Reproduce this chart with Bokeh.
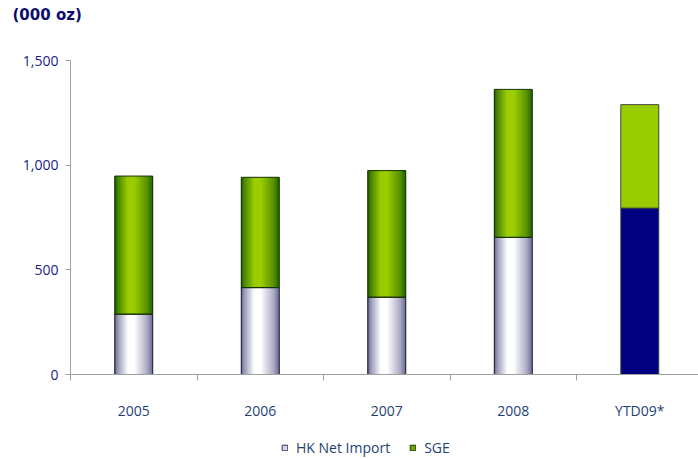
import numpy as np
from bokeh.plotting import figure
from bokeh.layouts import column
from bokeh.models import (Range1d, FixedTicker, NumeralTickFormatter, Legend,
                          LegendItem, ColumnDataSource)
from bokeh.embed import file_html
from bokeh.resources import INLINE

# ---- data ----
categories = ["2005", "2006", "2007", "2008", "YTD09*"]
hk_net_import = [288, 415, 369, 655, 795]
sge = [660, 527, 605, 707, 494]
gradient_style = [True, True, True, True, False]
y_ticks = [0, 500, 1000, 1500]
series_labels = ["HK Net Import", "SGE"]
unit_title = "(000 oz)"

BW = 0.3          # bar width in category units
N_STRIPS = 38
W = 698

# ---- title strip ----
p0 = figure(width=W, height=30, output_backend="svg", toolbar_location=None,
            x_axis_location=None, y_axis_location=None, min_border=0,
            x_range=Range1d(0, 1), y_range=Range1d(0, 1))
p0.outline_line_color = None
p0.grid.visible = False
p0.title.text = unit_title
p0.title.align = "left"
p0.title.vertical_align = "top"
p0.title.offset = -58
p0.title.standoff = 10
p0.title.text_font = "DejaVu Sans"
p0.title.text_font_size = "15px"
p0.title.text_font_style = "bold"
p0.title.text_color = "#0c0c6e"

# ---- main chart ----
p = figure(width=W, height=400, output_backend="svg", toolbar_location=None,
           x_range=Range1d(0.5, 5.464), y_range=Range1d(0, 1500),
           min_border_left=70, min_border_right=0, min_border_top=30,
           min_border_bottom=56, background_fill_color="white",
           border_fill_color="white")
p.outline_line_color = None
p.xgrid.visible = False
p.ygrid.visible = False

# cylinder-like shading profile (style only)
prof_t = [0.0, 0.08, 0.35, 0.52, 0.85, 1.0]
prof_v = [0.0, 0.35, 1.0, 1.0, 0.5, 0.1]


def mix(dark, light, f):
    r = [int(round(d + (l - d) * f)) for d, l in zip(dark, light)]
    return "#%02x%02x%02x" % tuple(r)


HK_DARK, HK_LIGHT = (92, 92, 140), (255, 255, 255)
GR_DARK, GR_LIGHT = (22, 88, 0), (155, 205, 0)

strips = dict(x=[], bottom=[], top=[], color=[])
outline_hk = dict(x=[], bottom=[], top=[])
outline_sg = dict(x=[], bottom=[], top=[])
solid = dict(x=[], hk=[], tot=[])

for i, (hk, sg, g) in enumerate(zip(hk_net_import, sge, gradient_style)):
    xc = i + 1
    tot = hk + sg
    if g:
        for k in range(N_STRIPS):
            t = (k + 0.5) / N_STRIPS
            f = float(np.interp(t, prof_t, prof_v))
            xs = xc - BW / 2 + t * BW
            strips["x"] += [xs, xs]
            strips["bottom"] += [0, hk]
            strips["top"] += [hk, tot]
            strips["color"] += [mix(HK_DARK, HK_LIGHT, f), mix(GR_DARK, GR_LIGHT, f)]
        outline_hk["x"].append(xc); outline_hk["bottom"].append(0); outline_hk["top"].append(hk)
        outline_sg["x"].append(xc); outline_sg["bottom"].append(hk); outline_sg["top"].append(tot)
    else:
        solid["x"].append(xc); solid["hk"].append(hk); solid["tot"].append(tot)

p.vbar(x="x", bottom="bottom", top="top", width=BW / N_STRIPS * 1.5,
       fill_color="color", line_color=None, source=ColumnDataSource(strips))
p.vbar(x="x", bottom="bottom", top="top", width=BW, fill_color=None,
       line_color="#1c1c30", line_width=1, source=ColumnDataSource(outline_hk))
p.vbar(x="x", bottom="bottom", top="top", width=BW, fill_color=None,
       line_color="#143300", line_width=1, source=ColumnDataSource(outline_sg))

ss = ColumnDataSource(solid)
p.vbar(x="x", bottom=0, top="hk", width=BW, fill_color="#000080",
       line_color="#404040", line_width=1, source=ss)
p.vbar(x="x", bottom="hk", top="tot", width=BW, fill_color="#99cc00",
       line_color="#404040", line_width=1, source=ss)

# ---- axes ----
xa = p.xaxis[0]
xa.ticker = FixedTicker(ticks=list(range(1, len(categories) + 1)),
                        minor_ticks=[k + 0.5 for k in range(len(categories) + 1)])
xa.major_label_overrides = {i + 1: c for i, c in enumerate(categories)}
xa.major_tick_line_color = None
xa.major_tick_out = 0
xa.minor_tick_in = 0
xa.minor_tick_out = 6
xa.minor_tick_line_color = "#a0a0a0"
xa.axis_line_color = "#a0a0a0"
xa.major_label_standoff = 20
xa.major_label_text_font = "Open Sans"
xa.major_label_text_font_size = "14px"
xa.major_label_text_color = "#1f3f78"

ya = p.yaxis[0]
ya.ticker = FixedTicker(ticks=y_ticks)
ya.formatter = NumeralTickFormatter(format="0,0")
ya.major_tick_in = 0
ya.major_tick_out = 5
ya.minor_tick_line_color = None
ya.major_tick_line_color = "#a0a0a0"
ya.axis_line_color = "#a0a0a0"
ya.major_label_standoff = 7
ya.major_label_text_font = "Open Sans"
ya.major_label_text_font_size = "14px"
ya.major_label_text_color = "#1c1c8a"

# ---- legend strip ----
p2 = figure(width=W, height=29, output_backend="svg", toolbar_location=None,
            x_axis_location=None, y_axis_location=None, min_border=0,
            x_range=Range1d(0, 1), y_range=Range1d(0, 1))
p2.outline_line_color = None
p2.grid.visible = False
nan = [float("nan")]
r_hk = p2.quad(left=nan, right=nan, top=nan, bottom=nan, fill_color="#d6d6e6",
               line_color="#333350")
r_sg = p2.quad(left=nan, right=nan, top=nan, bottom=nan, fill_color="#66aa00",
               line_color="#1a3a00")
legend = Legend(items=[LegendItem(label=series_labels[0], renderers=[r_hk]),
                       LegendItem(label=series_labels[1], renderers=[r_sg])],
                location=(211, 2), orientation="horizontal",
                glyph_width=7, glyph_height=7, label_standoff=8, spacing=19,
                padding=0, margin=0, label_height=14,
                label_text_font="Open Sans", label_text_font_size="14px",
                label_text_color="#1f3f78", border_line_color=None,
                background_fill_alpha=0)
p2.add_layout(legend)

layout = column(p0, p, p2, spacing=0)
open("out.html", "w").write(file_html(layout, INLINE))
